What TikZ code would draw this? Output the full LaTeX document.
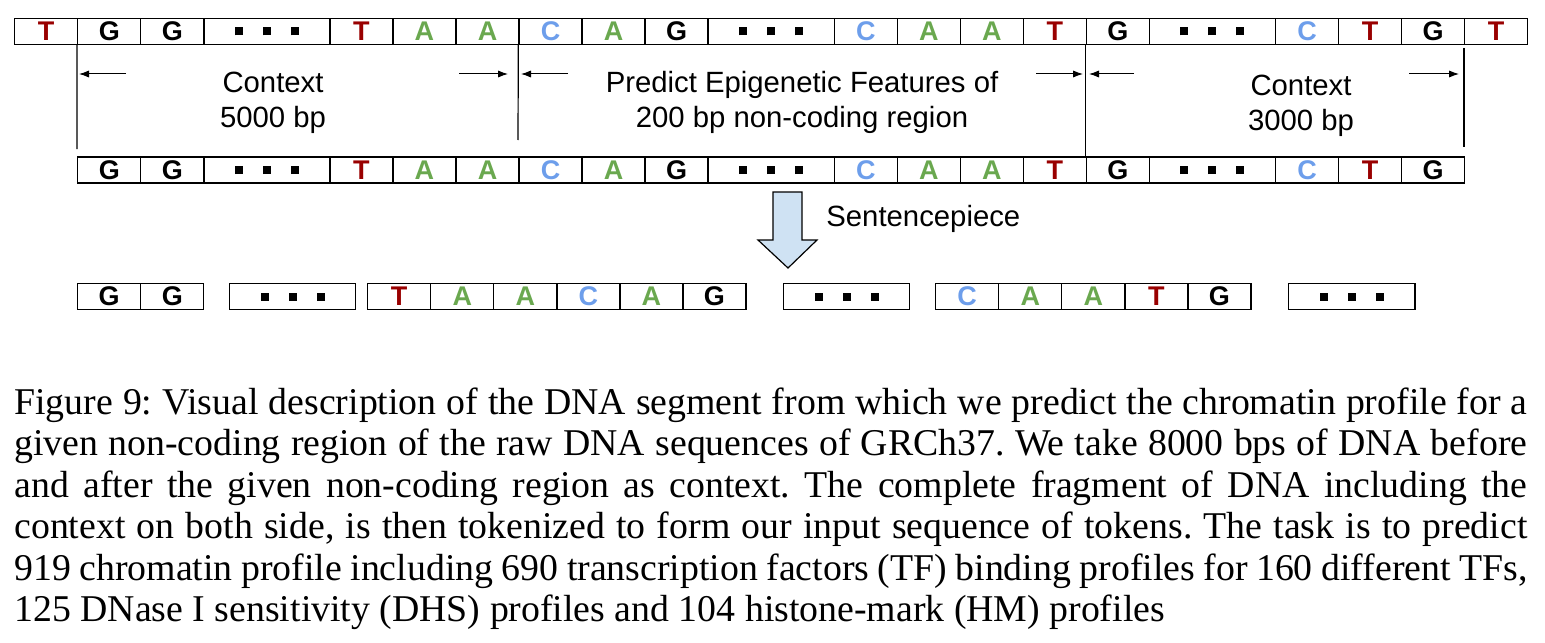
\documentclass[tikz,border=0pt]{standalone}
\usepackage{fontspec}
\setmainfont{Liberation Sans}
\newfontfamily\leyenda{Liberation Serif}
\usetikzlibrary{arrows.meta}
\frenchspacing
\definecolor{rojoT}{HTML}{990000}
\definecolor{verdeA}{HTML}{6AA84F}
\definecolor{azulC}{HTML}{6D9EEB}
\definecolor{azulflecha}{HTML}{CFE2F3}
\newcommand{\puntos}{\rule{4pt}{4pt}\hspace{10pt}\rule{4pt}{4pt}\hspace{10pt}\rule{4pt}{4pt}}
\newcommand{\bT}{\textcolor{rojoT}{T}}
\newcommand{\bA}{\textcolor{verdeA}{A}}
\newcommand{\bC}{\textcolor{azulC}{C}}
\newcommand{\bG}{G}
\newcommand{\bD}{\puntos}
\begin{document}
\begin{tikzpicture}[x=0.5pt, y=-0.5pt,
    celda/.style={draw, line width=0.7pt, minimum height=12.9pt, inner sep=0pt,
      anchor=west, font=\fontsize{13.5}{13.5}\selectfont\bfseries},
    linea/.style={line width=0.6pt},
    cota/.style={line width=0.5pt, -{Latex[length=5pt,width=3.6pt]}},
    texto/.style={font=\fontsize{14.65}{17.5}\selectfont, align=center, inner sep=0pt},
    pie/.style={anchor=base west, inner sep=0pt, font=\leyenda\fontsize{18.9}{20.75}\selectfont}]
    \useasboundingbox (0,0) rectangle (1545,642);

    % Secuencia completa
    \foreach \i/\b/\n in {0/T/1,1/G/1,2/G/1,3/D/2,5/T/1,6/A/1,7/A/1,8/C/1,9/A/1,10/G/1,11/D/2,
      13/C/1,14/A/1,15/A/1,16/T/1,17/G/1,18/D/2,20/C/1,21/T/1,22/G/1,23/T/1}
      \node[celda, minimum width=\n*31.52pt] (s1-\i) at ({14+63.04*\i}, 31.4) {\csname b\b\endcsname};

    % Fragmento con contexto
    \foreach \i/\b/\n in {1/G/1,2/G/1,3/D/2,5/T/1,6/A/1,7/A/1,8/C/1,9/A/1,10/G/1,11/D/2,
      13/C/1,14/A/1,15/A/1,16/T/1,17/G/1,18/D/2,20/C/1,21/T/1,22/G/1}
      \node[celda, minimum width=\n*31.52pt] (s2-\i) at ({14+63.04*\i}, 170) {\csname b\b\endcsname};

    % Tokens
    \foreach \x/\b/\n [count=\k] in {77/G/1,140.04/G/1,229/D/2,367/T/1,430.04/A/1,493.08/A/1,
      556.12/C/1,619.16/A/1,682.2/G/1,783/D/2,935/C/1,998.04/A/1,1061.08/A/1,1124.12/T/1,
      1187.16/G/1,1288/D/2}
      \node[celda, minimum width=\n*31.52pt] (s3-\k) at (\x, 296.5) {\csname b\b\endcsname};

    % Lineas verticales
    \coordinate (l1) at (77,149);
    \coordinate (l2) at (518,140);
    \coordinate (l4a) at (1464,48);
    \coordinate (l4b) at (1464,147);
    \draw[linea] (s1-1.south west) -- (l1);
    \draw[linea] (s1-8.south west) -- (l2);
    \draw[linea] (s1-17.south west) -- (s2-17.north west);
    \draw[linea] (l4a) -- (l4b);

    % Flechas de cota
    \foreach \a/\c/\n in {126/79/1,459/508/2,568/521/3,1036/1083/4,1134/1089/5,1409/1459/6} {
      \coordinate (c\n a) at (\a,74);
      \coordinate (c\n b) at (\c,74);
      \draw[cota] (c\n a) -- (c\n b);
    }

    % Textos
    \node[texto] (ctx1) at (273,103) {Context\\5000 bp};
    \node[texto] (pred) at (802,102) {Predict Epigenetic Features of\\200 bp non-coding region};
    \node[texto] (ctx2) at (1301,106) {Context\\3000 bp};

    % Flecha gruesa
    \draw[fill=azulflecha, line width=0.6pt] (773,192) -- (802,192) -- (802,240) -- (817,240)
      -- (788,268) -- (758,240) -- (773,240) -- cycle;
    \node[texto, anchor=west] (sp) at (826,219) {Sentencepiece};

    % Leyenda
    \node[pie] (p1) at (14,414) {\makebox[756.5pt][s]{Figure 9: Visual description of the DNA segment from which we predict the chromatin profile for a}};
    \node[pie] (p2) at (14,455.5) {\makebox[756.5pt][s]{given non-coding region of the raw DNA sequences of GRCh37. We take 8000 bps of DNA before}};
    \node[pie] (p3) at (14,497) {\makebox[756.5pt][s]{and after the given non-coding region as context. The complete fragment of DNA including the}};
    \node[pie] (p4) at (14,538.5) {\makebox[756.5pt][s]{context on both side, is then tokenized to form our input sequence of tokens. The task is to predict}};
    \node[pie] (p5) at (14,580) {\makebox[756.5pt][s]{919 chromatin profile including 690 transcription factors (TF) binding profiles for 160 different TFs,}};
    \node[pie] (p6) at (14,621.5) {125 DNase I sensitivity (DHS) profiles and 104 histone-mark (HM) profiles};
  \end{tikzpicture}
\end{document}
